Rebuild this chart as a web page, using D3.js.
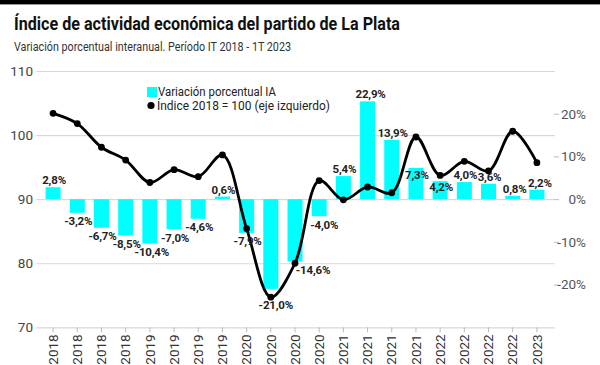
<!DOCTYPE html>
<html>
<head>
<meta charset="utf-8">
<script src="https://cdn.jsdelivr.net/npm/d3@7/dist/d3.min.js"></script>
<style>
  html, body { margin: 0; padding: 0; background: #fff; }
  svg { display: block; font-family: Roboto, "Liberation Sans", sans-serif; }
</style>
</head>
<body>
<div id="chart"></div>
<script>
// ---- data ----
const quarters = ["2018-1","2018-2","2018-3","2018-4","2019-1","2019-2","2019-3","2019-4",
  "2020-1","2020-2","2020-3","2020-4","2021-1","2021-2","2021-3","2021-4",
  "2022-1","2022-2","2022-3","2022-4","2023-1"];
const yearLabels = ["2018","2018","2018","2018","2019","2019","2019","2019",
  "2020","2020","2020","2020","2021","2021","2021","2021",
  "2022","2022","2022","2022","2023"];
const variacion = [2.8,-3.2,-6.7,-8.5,-10.4,-7.0,-4.6,0.6,-7.9,-21.0,-14.6,-4.0,
  5.4,22.9,13.9,7.3,4.2,4.0,3.6,0.8,2.2];
const indice = [103.4,101.8,98.1,96.1,92.6,94.6,93.5,96.9,85.4,74.7,80.0,92.9,
  89.9,91.9,91.0,99.7,93.7,95.9,94.4,100.6,95.7];
const leftTicks = [70,80,90,100,110];
const rightTicks = [-20,-10,0,10,20];

const W = 600, H = 365;
const svg = d3.select("#chart").append("svg").attr("width", W).attr("height", H);

// header
svg.append("rect").attr("x",0).attr("y",0).attr("width",W).attr("height",4).attr("fill","#000");
svg.append("rect").attr("x",0).attr("y",4).attr("width",W).attr("height",1).attr("fill","#999");
svg.append("text").attr("x",14).attr("y",29.5)
  .attr("font-size",18.5).attr("font-weight",700).attr("fill","#111")
  .attr("textLength",386).attr("lengthAdjust","spacingAndGlyphs")
  .text("Índice de actividad económica del partido de La Plata");
svg.append("text").attr("x",14).attr("y",51)
  .attr("font-size",12.5).attr("fill","#333")
  .attr("textLength",277).attr("lengthAdjust","spacingAndGlyphs")
  .text("Variación porcentual interanual. Período IT 2018 - 1T 2023");

// scales
const x = d3.scaleBand().domain(quarters).range([41,549]).paddingInner(0.38).paddingOuter(0.19);
const yL = d3.scaleLinear().domain([70,110]).range([327.3,71]);
const yR = d3.scaleLinear().domain([-30,30]).range([327.3,71]);
const cx = q => x(q) + x.bandwidth()/2;

// gridlines (left axis)
const gAxisL = svg.append("g").attr("transform","translate(36,0)")
  .call(d3.axisRight(yL).tickValues(leftTicks).tickSize(519).tickFormat(d => d));
gAxisL.select(".domain").remove();
gAxisL.selectAll(".tick line").attr("stroke","#d9d9d9").attr("stroke-width",1.2);
gAxisL.selectAll(".tick text").attr("x",-3).attr("text-anchor","end")
  .attr("font-size",13.5).attr("fill","#444").attr("font-family","Roboto, sans-serif");

// right axis
const gAxisR = svg.append("g").attr("transform","translate(554,0)")
  .call(d3.axisRight(yR).tickValues(rightTicks).tickSize(5).tickPadding(0).tickFormat(d => d + "%"));
gAxisR.select(".domain").remove();
gAxisR.selectAll(".tick line").attr("stroke","#bbb");
gAxisR.selectAll(".tick text").attr("x",32).attr("text-anchor","end")
  .attr("font-size",13.5).attr("fill","#555").attr("font-family","Roboto, sans-serif");

// x axis
const gX = svg.append("g").attr("transform","translate(0,327.3)")
  .call(d3.axisBottom(x).tickSize(5).tickFormat((d,i) => yearLabels[i]));
gX.select(".domain").remove();
gX.selectAll(".tick line").attr("stroke","#bbb");
gX.selectAll(".tick text")
  .attr("transform","rotate(-90)").attr("text-anchor","end")
  .attr("x",-7).attr("y",0).attr("dy","0.35em")
  .attr("font-size",13.5).attr("fill","#333").attr("font-family","Roboto, sans-serif");

// bars
svg.append("g").selectAll("rect").data(variacion).join("rect")
  .attr("x",(d,i) => x(quarters[i]))
  .attr("width", x.bandwidth())
  .attr("y", d => yR(Math.max(0,d)))
  .attr("height", d => Math.abs(yR(d) - yR(0)))
  .attr("fill","#00ffff");

// line
const line = d3.line().x((d,i) => cx(quarters[i])).y(d => yL(d)).curve(d3.curveCatmullRom.alpha(0.5));
svg.append("path").datum(indice).attr("d", line)
  .attr("fill","none").attr("stroke","#000").attr("stroke-width",2.8).attr("stroke-linejoin","round");
svg.append("g").selectAll("circle").data(indice).join("circle")
  .attr("cx",(d,i) => cx(quarters[i])).attr("cy", d => yL(d)).attr("r",3.4).attr("fill","#000");

// bar labels (small placement nudges to avoid the line, as in the original)
const nudge = {9:[4,8], 10:[17,0], 11:[4,0], 15:[0,14], 16:[0,13], 13:[2,0], 19:[1,0], 20:[2,0], 4:[1,0]};
svg.append("g").selectAll("text").data(variacion).join("text")
  .attr("x",(d,i) => cx(quarters[i]) + 1 + (nudge[i] ? nudge[i][0] : 0))
  .attr("y",(d,i) => (d >= 0 ? yR(d) - 3 : yR(d) + 12.5) + (nudge[i] ? nudge[i][1] : 0))
  .attr("text-anchor","middle").attr("font-size",11.5).attr("font-weight",700).attr("fill","#222")
  .attr("letter-spacing",-0.2)
  .text(d => d3.format(".1f")(d).replace(".", ",").replace("−","-") + "%");

// legend
const lg = svg.append("g");
lg.append("rect").attr("x",147).attr("y",87).attr("width",10).attr("height",10).attr("fill","#00ffff");
lg.append("text").attr("x",158).attr("y",96).attr("font-size",12.5).attr("fill","#222")
  .attr("textLength",118).attr("lengthAdjust","spacingAndGlyphs").text("Variación porcentual IA");
lg.append("circle").attr("cx",151).attr("cy",105.5).attr("r",3.6).attr("fill","#000");
lg.append("text").attr("x",157).attr("y",110).attr("font-size",12.5).attr("fill","#222")
  .attr("textLength",173).attr("lengthAdjust","spacingAndGlyphs").text("Índice 2018 = 100 (eje izquierdo)");
</script>
</body>
</html>
